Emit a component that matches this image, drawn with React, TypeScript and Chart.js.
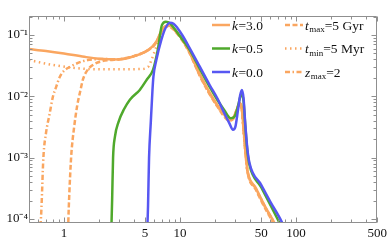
import React, { useEffect, useRef } from 'react';
import { Chart, registerables } from 'chart.js';

Chart.register(...registerables);

// ---------- data ----------
const xK3 = [0.5, 0.7, 1, 1.5, 2, 3, 4, 5, 5.8, 6.3, 6.8, 7.3, 7.9, 8.5, 9.5, 10.5, 12, 14.8, 18, 21, 24, 26.5, 28.5, 30.5, 32.6, 34, 35.5, 37, 38.2, 45, 55, 65, 72];
const yK3 = [0.059, 0.055, 0.05, 0.044, 0.041, 0.04, 0.045, 0.053, 0.065, 0.08, 0.11, 0.135, 0.143, 0.135, 0.11, 0.085, 0.055, 0.023, 0.0115, 0.0072, 0.005, 0.0042, 0.0044, 0.0058, 0.0078, 0.0065, 0.0025, 0.001, 0.0006, 0.00032, 0.00015, 0.000086, 0.000055];

const xK05 = [2.55, 2.6, 2.65, 2.75, 2.95, 3.3, 3.7, 4.5, 5.2, 5.85, 6.43, 6.98, 7.55, 8.2, 9, 10, 12, 14.8, 18, 21, 24, 27.3, 29.5, 31.5, 33, 34, 35.2, 36.5, 38, 39.7, 50, 60, 72, 80];
const yK05 = [0.00005, 0.0002, 0.001, 0.0022, 0.0038, 0.0062, 0.0088, 0.0127, 0.019, 0.027, 0.057, 0.145, 0.165, 0.155, 0.125, 0.095, 0.059, 0.028, 0.0142, 0.0087, 0.006, 0.0044, 0.0047, 0.0068, 0.0098, 0.0108, 0.0085, 0.0033, 0.0013, 0.00075, 0.00033, 0.00017, 0.000086, 0.000058];

const xK0 = [5.2, 5.3, 5.41, 5.6, 5.79, 5.9, 6.25, 6.9, 7.5, 8.15, 8.8, 9.5, 10.5, 12, 14.8, 18, 21, 24.2, 26.5, 28.6, 30, 31.5, 33, 34.1, 35.2, 36.5, 38, 39.7, 50, 60, 76, 85];
const yK0 = [0.00005, 0.00016, 0.001, 0.0038, 0.0127, 0.021, 0.039, 0.083, 0.13, 0.159, 0.153, 0.13, 0.098, 0.063, 0.0304, 0.0153, 0.0092, 0.0052, 0.0037, 0.00285, 0.0032, 0.0058, 0.0105, 0.0127, 0.0095, 0.0035, 0.0014, 0.00081, 0.00036, 0.00019, 0.000086, 0.00005];

const xTmax = [1.08, 1.1, 1.13, 1.16, 1.22, 1.3, 1.38, 1.46, 1.6, 1.8, 2.1, 2.5, 3, 4, 5, 5.8, 6.3, 6.8, 7.3, 7.9, 8.5, 9.5, 10.5, 12, 14.8, 18, 21, 24, 26.5, 28.5, 30.5, 32.6, 34, 35.5, 37, 38.2, 45, 55, 65, 72];
const yTmax = [0.00005, 0.00015, 0.0005, 0.0012, 0.003, 0.007, 0.012, 0.019, 0.027, 0.033, 0.037, 0.039, 0.0403, 0.0452, 0.053, 0.064, 0.078, 0.105, 0.13, 0.14, 0.13, 0.104, 0.08, 0.052, 0.0215, 0.0108, 0.0068, 0.0047, 0.004, 0.0042, 0.0055, 0.0074, 0.0062, 0.0024, 0.00095, 0.00057, 0.0003, 0.00014, 0.00008, 0.00005];

const xTmin = [0.5, 0.8, 1.1, 1.7, 3, 4.5, 5.3, 5.67, 6, 6.4, 6.9, 7.4, 7.9, 8.5, 9.5, 10.5, 12, 14.8, 18, 21, 24, 26.5, 28.5, 30.5, 32.6, 34, 35.5, 37, 38.2, 45, 55, 65, 72];
const yTmin = [0.039, 0.0325, 0.0298, 0.0278, 0.0275, 0.0278, 0.03, 0.039, 0.052, 0.075, 0.11, 0.132, 0.138, 0.13, 0.106, 0.082, 0.053, 0.022, 0.011, 0.0069, 0.0048, 0.0041, 0.0043, 0.0056, 0.0075, 0.0063, 0.0024, 0.00097, 0.00058, 0.00031, 0.000145, 0.000083, 0.000053];

const xZmax = [0.62, 0.64, 0.665, 0.7, 0.75, 0.805, 0.86, 0.92, 1.0, 1.12, 1.37, 1.6, 2, 3, 4, 5, 5.8, 6.3, 6.8, 7.3, 7.9, 8.5, 9.5, 10.5, 12, 14.8, 18, 21, 24, 26.5, 28.5, 30.5, 32.6, 34, 35.5, 37, 38.2, 45, 55, 65, 72];
const yZmax = [0.00005, 0.00015, 0.001, 0.0025, 0.005, 0.01, 0.0145, 0.0207, 0.026, 0.03, 0.036, 0.039, 0.0405, 0.0403, 0.0453, 0.0532, 0.0645, 0.079, 0.107, 0.132, 0.141, 0.133, 0.107, 0.083, 0.0535, 0.0222, 0.0111, 0.007, 0.0049, 0.0041, 0.0043, 0.0057, 0.0076, 0.0064, 0.00245, 0.00098, 0.00059, 0.00031, 0.000148, 0.000085, 0.000054];

const xTickLabels = [1, 5, 10, 50, 100, 500];
const yTickValues = [1e-4, 1e-3, 1e-2, 1e-1];
const superDigits: Record<string, string> = { '-': '⁻', '0': '⁰', '1': '¹', '2': '²', '3': '³', '4': '⁴', '5': '⁵' };

// legend label parts: [text, style] where style: 'i' italic, 's' subscript, '' normal
const legendK3 = [['k', 'i'], ['=3.0', '']];
const legendK05 = [['k', 'i'], ['=0.5', '']];
const legendK0 = [['k', 'i'], ['=0.0', '']];
const legendTmax = [['t', 'i'], ['max', 's'], ['=5 Gyr', '']];
const legendTmin = [['t', 'i'], ['min', 's'], ['=5 Myr', '']];
const legendZmax = [['z', 'i'], ['max', 's'], ['=2', '']];

const ORANGE = '#FAA660';
const GREEN = '#4FA92C';
const BLUE = '#5757F2';
const FONT = '"Liberation Serif", "Times New Roman", serif';

const pts = (xs: number[], ys: number[]) => xs.map((x, i) => ({ x, y: ys[i] }));

const legendEntries = [
  { col: 0, row: 0, color: ORANGE, dash: [] as number[], parts: legendK3 },
  { col: 0, row: 1, color: GREEN, dash: [], parts: legendK05 },
  { col: 0, row: 2, color: BLUE, dash: [], parts: legendK0 },
  { col: 1, row: 0, color: ORANGE, dash: [5, 2.5], parts: legendTmax },
  { col: 1, row: 1, color: ORANGE, dash: [1.5, 3.5], parts: legendTmin },
  { col: 1, row: 2, color: ORANGE, dash: [5, 2.5, 1.5, 2.5], parts: legendZmax },
];

const framePlugin = {
  id: 'frameTicks',
  afterDraw(chart: any) {
    const { ctx, chartArea: a, scales } = chart;
    const xs = scales.x, ys = scales.y;
    ctx.save();
    ctx.strokeStyle = '#8f8f8f';
    ctx.lineWidth = 1;
    const L = Math.round(a.left) + 0.5, R = Math.round(a.right) - 0.5;
    const T = Math.round(a.top) + 0.5, B = Math.round(a.bottom) - 0.5;
    ctx.beginPath();
    ctx.rect(L, T, R - L, B - T);
    ctx.stroke();
    ctx.beginPath();
    for (let d = -1; d <= 2; d++) {
      for (let m = 1; m <= 9; m++) {
        const v = m * Math.pow(10, d);
        if (v < xs.min - 1e-9 || v > xs.max + 1e-9) continue;
        const major = xTickLabels.some((t) => Math.abs(t - v) < 1e-9);
        const len = major ? 5 : 3;
        const px = Math.round(xs.getPixelForValue(v)) + 0.5;
        ctx.moveTo(px, B); ctx.lineTo(px, B - len);
        ctx.moveTo(px, T); ctx.lineTo(px, T + len);
      }
    }
    for (let d = -5; d <= -1; d++) {
      for (let m = 1; m <= 9; m++) {
        const v = m * Math.pow(10, d);
        if (v < ys.min || v > ys.max) continue;
        const len = m === 1 ? 5 : 3;
        const py = Math.round(ys.getPixelForValue(v)) + 0.5;
        ctx.moveTo(L, py); ctx.lineTo(L + len, py);
        ctx.moveTo(R, py); ctx.lineTo(R - len, py);
      }
    }
    ctx.stroke();

    // legend
    const colLine = [212, 285];
    const rowY = [25, 48.5, 72];
    const lineW = 18;
    for (const e of legendEntries) {
      const x0 = colLine[e.col];
      const y0 = rowY[e.row];
      ctx.strokeStyle = e.color;
      ctx.lineWidth = 2.5;
      ctx.setLineDash(e.dash);
      ctx.beginPath();
      ctx.moveTo(x0, y0);
      ctx.lineTo(x0 + lineW, y0);
      ctx.stroke();
      ctx.setLineDash([]);
      let tx = x0 + lineW + 2;
      ctx.fillStyle = '#111';
      ctx.textBaseline = 'alphabetic';
      for (const [t, s] of e.parts) {
        const size = s === 's' ? 9 : 13.5;
        ctx.font = `${s === 'i' ? 'italic ' : ''}${size}px ${FONT}`;
        ctx.fillText(t, tx, y0 + (s === 's' ? 7 : 4.5));
        tx += ctx.measureText(t).width + (s === 'i' ? 0.5 : 0);
      }
    }
    ctx.restore();
  },
};

const lineDs = (label: string, xs: number[], ys: number[], color: string, dash: number[], order: number) => ({
  label,
  data: pts(xs, ys),
  borderColor: color,
  backgroundColor: color,
  borderWidth: 2.5,
  borderDash: dash,
  pointRadius: 0,
  cubicInterpolationMode: 'monotone' as const,
  fill: false,
  order,
});

export default function App() {
  const ref = useRef<HTMLCanvasElement>(null);
  useEffect(() => {
    const chart = new Chart(ref.current!, {
      type: 'line',
      data: {
        datasets: [
          lineDs('k=0.0', xK0, yK0, BLUE, [], 0),
          lineDs('k=0.5', xK05, yK05, GREEN, [], 1),
          lineDs('k=3.0', xK3, yK3, ORANGE, [], 2),
          lineDs('t_max=5 Gyr', xTmax, yTmax, ORANGE, [5, 2.5], 3),
          lineDs('t_min=5 Myr', xTmin, yTmin, ORANGE, [1.5, 3.5], 4),
          lineDs('z_max=2', xZmax, yZmax, ORANGE, [5, 2.5, 1.5, 2.5], 5),
        ],
      },
      options: {
        animation: false,
        responsive: false,
        maintainAspectRatio: false,
        layout: { padding: { top: 15.6, right: 12, left: 0, bottom: 0 } },
        plugins: { legend: { display: false }, tooltip: { enabled: false } },
        scales: {
          x: {
            type: 'logarithmic',
            min: 0.5,
            max: 500,
            bounds: 'data',
            grid: { display: false, drawTicks: false },
            border: { display: false },
            afterBuildTicks: (s: any) => { s.ticks = xTickLabels.map((v) => ({ value: v })); },
            afterFit: (s: any) => { s.height = 19; },
            ticks: {
              autoSkip: false,
              maxRotation: 0,
              padding: 3,
              color: '#111',
              font: { family: FONT, size: 13 },
              callback: (v: any) => String(v),
            },
          },
          y: {
            type: 'logarithmic',
            min: 8.6e-5,
            max: 0.207,
            bounds: 'data',
            grid: { display: false, drawTicks: false },
            border: { display: false },
            afterBuildTicks: (s: any) => { s.ticks = yTickValues.map((v) => ({ value: v })); },
            afterFit: (s: any) => { s.width = 29; },
            ticks: {
              autoSkip: false,
              padding: 1,
              color: '#111',
              font: { family: FONT, size: 13 },
              callback: (v: any) => {
                const e = String(Math.round(Math.log10(Number(v))));
                return '10' + e.split('').map((c) => superDigits[c] || c).join('');
              },
            },
          },
        },
      },
      plugins: [framePlugin],
    } as any);
    return () => chart.destroy();
  }, []);
  return (
    <div style={{ position: 'fixed', left: 0, top: 0, width: 390, height: 242, background: '#fff' }}>
      <canvas ref={ref} width={390} height={242} style={{ width: 390, height: 242, display: 'block' }} />
    </div>
  );
}
